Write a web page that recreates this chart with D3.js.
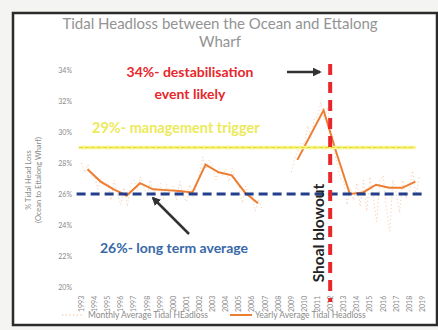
<!DOCTYPE html>
<html lang="en">
<head>
    <meta charset="UTF-8">
    <title>Tidal Headloss</title>
    <script src="https://cdn.jsdelivr.net/npm/d3@7"></script>
    <style>
        body { margin: 0; background: #f4f4f2; }
        svg { display: block; font-family: Lato, "Open Sans", sans-serif; }
    </style>
</head>
<body>
    <script>
        // width and height
        var w = 438;
        var h = 330;

        //dataset - yearly averages (value plotted mid year), null = no data
        var years = [1993, 1994, 1995, 1996, 1997, 1998, 1999, 2000, 2001, 2002, 2003, 2004, 2005, 2006, 2007, 2008,
                     2009, 2010, 2011, 2012, 2013, 2014, 2015, 2016, 2017, 2018];
        var yearlyValues = [27.6, 26.8, 26.3, 25.9, 26.7, 26.3, 26.25, 26.2, 26.1, 27.9, 27.4, 27.2, 26.1, 25.4, null, null,
                            28.2, 29.8, 31.4, 28.6, 26.0, 26.1, 26.6, 26.4, 26.4, 26.8];

        //monthly averages, sampled Jan / Apr / Jul / Oct of each year
        var monthlyYears = [1993, 1994, 1995, 1996, 1997, 1998, 1999, 2000, 2001, 2002, 2003, 2004, 2005, 2006,
                            2009, 2010, 2011, 2012, 2013, 2014, 2015, 2016, 2017, 2018];
        var monthlyMonths = [0, 3, 6, 9];
        var monthlyValues = [
            [28.0, 27.4, 27.9, 27.1], [27.2, 26.3, 27.0, 26.6], [26.8, 25.6, 26.9, 25.9], [25.3, 26.4, 25.2, 26.6],
            [26.9, 26.2, 27.1, 26.5], [25.8, 26.9, 26.0, 26.5], [26.7, 25.7, 26.6, 26.0], [26.5, 25.6, 26.8, 25.9],
            [25.5, 26.6, 25.8, 26.4], [27.3, 28.4, 27.6, 28.2], [27.8, 26.9, 27.6, 27.2], [27.6, 26.8, 27.7, 26.9],
            [26.6, 25.4, 26.5, 25.9], [25.9, 24.9, 25.6, 25.1],
            [27.4, 28.3, 28.8, 29.3], [29.2, 30.4, 29.6, 30.9], [31.0, 31.9, 30.8, 31.6], [30.2, 28.9, 27.9, 27.0],
            [26.8, 25.3, 26.4, 25.6], [26.7, 25.2, 26.9, 24.9], [27.1, 25.8, 24.2, 26.8], [27.2, 25.1, 23.6, 26.9],
            [26.0, 24.8, 26.9, 25.7], [26.2, 27.5, 25.9, 27.1]
        ];

        //axis ticks
        var yTicks = [20, 22, 24, 26, 28, 30, 32, 34];
        var xTickYears = d3.range(1993, 2020);

        //reference lines
        var longTermAverage = 26;
        var managementTrigger = 29;
        var blowoutYear = 2012;

        //scales
        var x = d3.scaleTime()
                  .domain([new Date(1993, 0, 1), new Date(2019, 0, 1)])
                  .range([81, 422]);
        var y = d3.scaleLinear()
                  .domain([20, 34])
                  .range([287, 70]);

        //Create SVG element
        var svg = d3.select("body")
                    .append("svg")
                    .attr("width", w)
                    .attr("height", h);

        //arrow head
        svg.append("defs").append("marker")
            .attr("id", "arrow")
            .attr("viewBox", "0 0 10 10")
            .attr("refX", 8)
            .attr("refY", 5)
            .attr("markerWidth", 3.5)
            .attr("markerHeight", 3.5)
            .attr("orient", "auto")
            .append("path")
            .attr("d", "M0,0L10,5L0,10z")
            .attr("fill", "#333");

        //white chart area with the dark frame
        svg.append("rect")
            .attr("x", 13)
            .attr("y", 13)
            .attr("width", 424)
            .attr("height", 312)
            .attr("fill", "#fff")
            .attr("stroke", "#2b2b2b")
            .attr("stroke-width", 2.5);

        //title
        svg.append("text")
            .attr("x", 220)
            .attr("y", 29)
            .attr("text-anchor", "middle")
            .attr("font-size", "15px")
            .attr("fill", "#939393")
            .text("Tidal Headloss between the Ocean and Ettalong");
        svg.append("text")
            .attr("x", 220)
            .attr("y", 47)
            .attr("text-anchor", "middle")
            .attr("font-size", "15px")
            .attr("fill", "#939393")
            .text("Wharf");

        //y axis - labels only
        var yAxis = d3.axisLeft(y)
                      .tickValues(yTicks)
                      .tickSize(0)
                      .tickPadding(0)
                      .tickFormat(function(d) { return d + "%"; });
        var gy = svg.append("g")
            .attr("transform", "translate(72,0)")
            .call(yAxis);
        gy.select(".domain").remove();
        gy.selectAll("text")
            .attr("font-size", "7px")
            .attr("font-family", "Lato, sans-serif")
            .attr("fill", "#8a8a8a");

        //y axis title
        var yTitle = svg.append("text")
            .attr("transform", "translate(31,180) rotate(-90)")
            .attr("text-anchor", "middle")
            .attr("font-size", "7.5px")
            .attr("fill", "#8a8a8a");
        yTitle.append("tspan").attr("x", 0).attr("dy", 0).text("% Tidal Head Loss");
        yTitle.append("tspan").attr("x", 0).attr("dy", 10).text("(Ocean to Ettalong Wharf)");

        //x axis - year labels rotated to read upwards
        var xAxis = d3.axisBottom(x)
                      .tickValues(xTickYears.map(function(d) { return new Date(d, 0, 1); }))
                      .tickSize(0)
                      .tickFormat(d3.timeFormat("%Y"));
        var gx = svg.append("g")
            .attr("transform", "translate(0,292)")
            .call(xAxis);
        gx.select(".domain").remove();
        gx.selectAll("text")
            .attr("font-size", "7px")
            .attr("font-family", "Lato, sans-serif")
            .attr("fill", "#8a8a8a")
            .attr("text-anchor", "start")
            .attr("transform", "rotate(-90)")
            .attr("x", -20)
            .attr("y", 0)
            .attr("dy", "0.35em");

        //monthly data points, split where years are missing
        var monthly = [];
        monthlyYears.forEach(function(yr, i) {
            monthlyMonths.forEach(function(m, j) {
                monthly.push({ date: new Date(yr, m, 15), value: monthlyValues[i][j] });
            });
        });
        var monthlyParts = [[]];
        monthly.forEach(function(d, i) {
            if (i > 0 && d.date - monthly[i - 1].date > 200 * 864e5) monthlyParts.push([]);
            monthlyParts[monthlyParts.length - 1].push(d);
        });
        var monthlyLine = d3.line()
            .x(function(d) { return x(d.date); })
            .y(function(d) { return y(d.value); });
        svg.selectAll("path.monthly")
            .data(monthlyParts)
            .enter()
            .append("path")
            .attr("class", "monthly")
            .attr("d", monthlyLine)
            .attr("fill", "none")
            .attr("stroke", "#f2b68c")
            .attr("stroke-width", 0.9)
            .attr("stroke-dasharray", "1.2,2.5")
            .attr("opacity", 0.75);

        //yearly line
        var yearly = years.map(function(yr, i) {
            return { date: new Date(yr, 6, 1), value: yearlyValues[i] };
        });
        var yearlyLine = d3.line()
            .defined(function(d) { return d.value != null; })
            .x(function(d) { return x(d.date); })
            .y(function(d) { return y(d.value); });
        svg.append("path")
            .datum(yearly)
            .attr("d", yearlyLine)
            .attr("fill", "none")
            .attr("stroke", "#ed7d31")
            .attr("stroke-width", 2);

        //29% management trigger line
        svg.append("line")
            .attr("x1", x(new Date(1992, 10, 1)))
            .attr("x2", x(new Date(2018, 6, 1)))
            .attr("y1", y(managementTrigger))
            .attr("y2", y(managementTrigger))
            .attr("stroke", "#f6f48a")
            .attr("stroke-width", 3.5);
        svg.append("line")
            .attr("x1", x(new Date(1992, 10, 1)))
            .attr("x2", x(new Date(2018, 6, 1)))
            .attr("y1", y(managementTrigger))
            .attr("y2", y(managementTrigger))
            .attr("stroke", "#e3dc2a")
            .attr("stroke-width", 1.2)
            .attr("stroke-dasharray", "4,2");

        //26% long term average line
        svg.append("line")
            .attr("x1", x(new Date(1992, 8, 1)))
            .attr("x2", x(new Date(2019, 2, 1)))
            .attr("y1", y(longTermAverage))
            .attr("y2", y(longTermAverage))
            .attr("stroke", "#233f8c")
            .attr("stroke-width", 3)
            .attr("stroke-dasharray", "9,5");

        //shoal blowout line
        svg.append("line")
            .attr("x1", x(new Date(blowoutYear, 0, 1)))
            .attr("x2", x(new Date(blowoutYear, 0, 1)))
            .attr("y1", 64)
            .attr("y2", 302)
            .attr("stroke", "#e8262b")
            .attr("stroke-width", 4)
            .attr("stroke-dasharray", "11,7");

        svg.append("text")
            .attr("transform", "translate(" + (x(new Date(blowoutYear, 0, 1)) - 6) + ",233) rotate(-90)")
            .attr("text-anchor", "middle")
            .attr("font-size", "15.5px")
            .attr("font-weight", "bold")
            .attr("fill", "#222")
            .text("Shoal blowout");

        //annotations
        svg.append("text")
            .attr("x", 190)
            .attr("y", 77)
            .attr("text-anchor", "middle")
            .attr("font-size", "14px")
            .attr("font-weight", "bold")
            .attr("fill", "#e8262b")
            .text("34%- destabilisation");
        svg.append("text")
            .attr("x", 190)
            .attr("y", 99)
            .attr("text-anchor", "middle")
            .attr("font-size", "14px")
            .attr("font-weight", "bold")
            .attr("fill", "#e8262b")
            .text("event likely");

        svg.append("text")
            .attr("x", 92)
            .attr("y", 133)
            .attr("font-size", "14.5px")
            .attr("font-weight", "bold")
            .attr("fill", "#ecea5a")
            .text("29%- management trigger");

        svg.append("text")
            .attr("x", 100)
            .attr("y", 253)
            .attr("font-size", "14px")
            .attr("font-weight", "bold")
            .attr("fill", "#3868a8")
            .text("26%- long term average");

        //arrows
        svg.append("line")
            .attr("x1", 287).attr("y1", 72)
            .attr("x2", 320).attr("y2", 72)
            .attr("stroke", "#333")
            .attr("stroke-width", 2.5)
            .attr("marker-end", "url(#arrow)");
        svg.append("line")
            .attr("x1", 189).attr("y1", 234)
            .attr("x2", 153).attr("y2", 198)
            .attr("stroke", "#333")
            .attr("stroke-width", 2.5)
            .attr("marker-end", "url(#arrow)");

        //legend
        svg.append("line")
            .attr("x1", 62).attr("x2", 84)
            .attr("y1", 315).attr("y2", 315)
            .attr("stroke", "#f2b68c")
            .attr("stroke-width", 1)
            .attr("stroke-dasharray", "1.2,2.5");
        svg.append("text")
            .attr("x", 88).attr("y", 318)
            .attr("font-size", "8.5px")
            .attr("fill", "#8a8a8a")
            .text("Monthly Average Tidal HEadloss");
        svg.append("line")
            .attr("x1", 230).attr("x2", 252)
            .attr("y1", 315).attr("y2", 315)
            .attr("stroke", "#ed7d31")
            .attr("stroke-width", 2);
        svg.append("text")
            .attr("x", 255).attr("y", 318)
            .attr("font-size", "8.5px")
            .attr("fill", "#8a8a8a")
            .text("Yearly Average Tidal Headloss");
    </script>
</body>
</html>
